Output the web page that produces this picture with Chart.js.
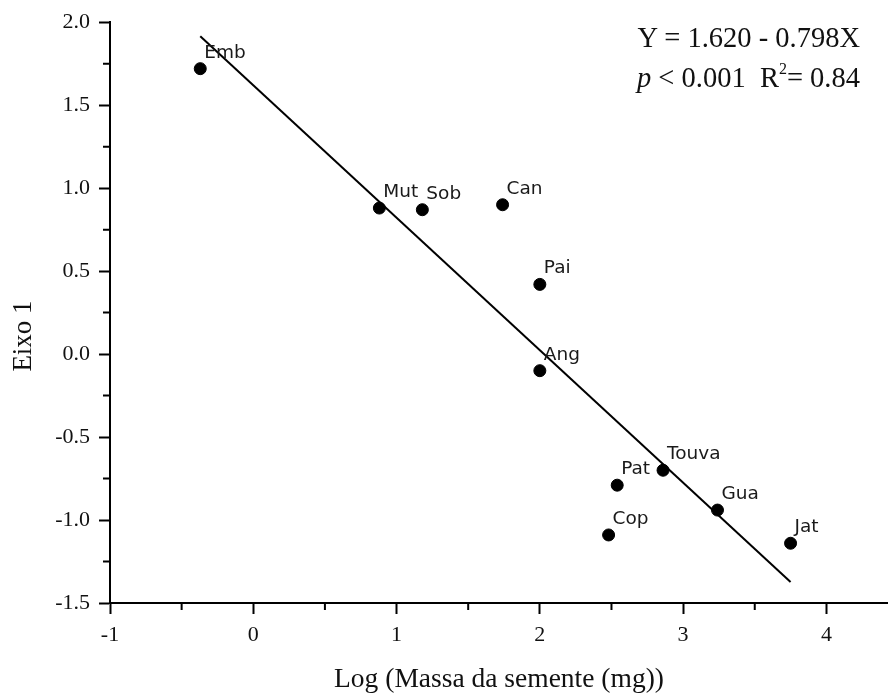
<!DOCTYPE html>
<html>
<head>
<meta charset="utf-8">
<script src="https://cdn.jsdelivr.net/npm/chart.js@4.4.1/dist/chart.umd.min.js"></script>
<style>
    body { margin: 0; background: #fff; }
    #wrap { position: relative; width: 888px; height: 695px; }
    #eq {
        position: absolute; top: 18px; right: 28px;
        font-family: "Liberation Serif", "Times New Roman", serif;
        font-size: 28.5px; line-height: 40px; text-align: right; color: #111;
        white-space: nowrap;
    }
    #eq sup { font-size: 16px; line-height: 0; vertical-align: 13px; }
</style>
</head>
<body>
<div id="wrap">
    <canvas id="chart"></canvas>
    <div id="eq">Y = 1.620 - 0.798X<br><i>p</i> &lt; 0.001&nbsp;&nbsp;R<sup>2</sup>= 0.84</div>
</div>
<script>
// species and values
const names = ['Emb', 'Mut', 'Sob', 'Can', 'Pai', 'Ang', 'Pat', 'Touva', 'Gua', 'Cop', 'Jat'];
const logMass = [-0.37, 0.88, 1.18, 1.74, 2.00, 2.00, 2.54, 2.86, 3.24, 2.48, 3.75];
const eixo1 = [1.72, 0.88, 0.87, 0.90, 0.42, -0.10, -0.79, -0.70, -0.94, -1.09, -1.14];

// ends of the fitted line
const fitX = [-0.37, 3.75];
const fitY = [1.915, -1.373];

const serif = '"Liberation Serif", "Times New Roman", serif';

// labels next to each point
const pointLabels = {
    id: 'pointLabels',
    afterDatasetsDraw(chart) {
        const ctx = chart.ctx;
        const meta = chart.getDatasetMeta(0);
        ctx.save();
        ctx.font = '18.5px "DejaVu Sans", sans-serif';
        ctx.fillStyle = '#1a1a1a';
        ctx.textAlign = 'left';
        ctx.textBaseline = 'alphabetic';
        meta.data.forEach((pt, i) => {
            ctx.fillText(names[i], pt.x + 4, pt.y - 11);
        });
        ctx.restore();
    }
};

// short minor ticks between the labelled ones + y title (sits lower than centre)
const extras = {
    id: 'extras',
    afterDraw(chart) {
        const ctx = chart.ctx;
        const x = chart.scales.x, y = chart.scales.y;
        ctx.save();
        ctx.strokeStyle = '#000';
        ctx.lineWidth = 2;
        ctx.beginPath();
        for (let v = -0.5; v < 4.4; v += 1) {
            const px = x.getPixelForValue(v);
            ctx.moveTo(px, x.top);
            ctx.lineTo(px, x.top + 7);
        }
        for (let v = -1.25; v < 2; v += 0.5) {
            const py = y.getPixelForValue(v);
            ctx.moveTo(y.right, py);
            ctx.lineTo(y.right - 7, py);
        }
        ctx.stroke();

        ctx.translate(24, 336);
        ctx.rotate(-Math.PI / 2);
        ctx.font = '27px ' + serif;
        ctx.fillStyle = '#111';
        ctx.textAlign = 'center';
        ctx.textBaseline = 'middle';
        ctx.fillText('Eixo 1', 0, 0);
        ctx.restore();
    }
};

const ctx = document.getElementById('chart').getContext('2d');
new Chart(ctx, {
    type: 'scatter',
    data: {
        datasets: [{
            label: 'Espécies',
            data: logMass.map((v, i) => ({ x: v, y: eixo1[i] })),
            backgroundColor: '#000',
            borderColor: '#000',
            pointRadius: 6,
            borderWidth: 1
        }, {
            type: 'line',
            label: 'Regressão',
            data: fitX.map((v, i) => ({ x: v, y: fitY[i] })),
            borderColor: '#000',
            borderWidth: 2,
            pointRadius: 0,
            fill: false
        }]
    },
    options: {
        responsive: true,
        maintainAspectRatio: false,
        animation: false,
        layout: { autoPadding: false, padding: { top: 20, right: 0, left: 0, bottom: 0 } },
        plugins: {
            legend: { display: false },
            tooltip: { enabled: false }
        },
        scales: {
            x: {
                type: 'linear',
                min: -1,
                max: 4.43,
                afterFit(scale) { scale.height = 92; },
                border: { display: true, color: '#000', width: 2 },
                grid: { drawOnChartArea: false, drawTicks: true, tickLength: 11, tickWidth: 2, tickColor: '#000' },
                ticks: {
                    stepSize: 1,
                    includeBounds: false,
                    padding: 8,
                    color: '#111',
                    font: { family: serif, size: 22 },
                    callback: v => String(v)
                },
                title: {
                    display: true,
                    text: 'Log (Massa da semente (mg))',
                    color: '#111',
                    font: { family: serif, size: 27.5, lineHeight: 1.1 },
                    padding: { top: 0, bottom: 0 }
                }
            },
            y: {
                min: -1.5,
                max: 2.0,
                afterFit(scale) { scale.width = 110; },
                border: { display: true, color: '#000', width: 2 },
                grid: { drawOnChartArea: false, drawTicks: true, tickLength: 11, tickWidth: 2, tickColor: '#000' },
                ticks: {
                    stepSize: 0.5,
                    padding: 9,
                    color: '#111',
                    font: { family: serif, size: 22 },
                    callback: v => v.toFixed(1)
                }
            }
        }
    },
    plugins: [pointLabels, extras]
});
</script>
</body>
</html>
